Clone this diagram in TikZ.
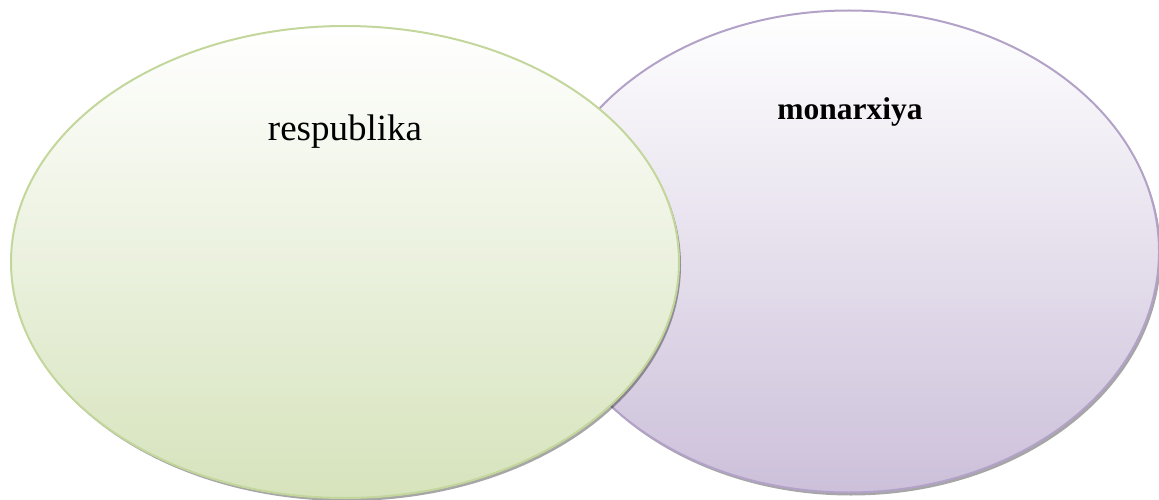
\documentclass[tikz,border=0pt]{standalone}
\usepackage{fontspec}
\setmainfont{Liberation Serif}
\usetikzlibrary{shapes.geometric,shadows}
\definecolor{gtop}{HTML}{FFFFFF}
\definecolor{gbot}{HTML}{D6E3BC}
\definecolor{gline}{HTML}{C3D69B}
\definecolor{ptop}{HTML}{FFFFFF}
\definecolor{pbot}{HTML}{CCC0DA}
\definecolor{pline}{HTML}{B3A2C7}
\tikzset{
  venn/.style={ellipse, inner sep=0pt, line width=2pt,
    drop shadow={shadow xshift=2pt, shadow yshift=-3pt, fill=black, opacity=0.35}},
  lbl/.style={anchor=base, inner sep=0pt}
}
\begin{document}
\begin{tikzpicture}[x=1pt,y=-1pt]
\useasboundingbox (0,0) rectangle (1159,500);
\node[venn, draw=pline, top color=ptop, bottom color=pbot,
  minimum width=620pt, minimum height=482pt] (mon) at (849,251.5) {};
\node[venn, draw=gline, top color=gtop, bottom color=gbot,
  minimum width=668pt, minimum height=472pt] (res) at (345,262) {};
\node[lbl, font=\fontsize{37}{44}\selectfont] (tres) at (345,140) {respublika};
\node[lbl, font=\fontsize{31.5}{38}\selectfont\bfseries] (tmon) at (850,120) {monarxiya};
\end{tikzpicture}
\end{document}
